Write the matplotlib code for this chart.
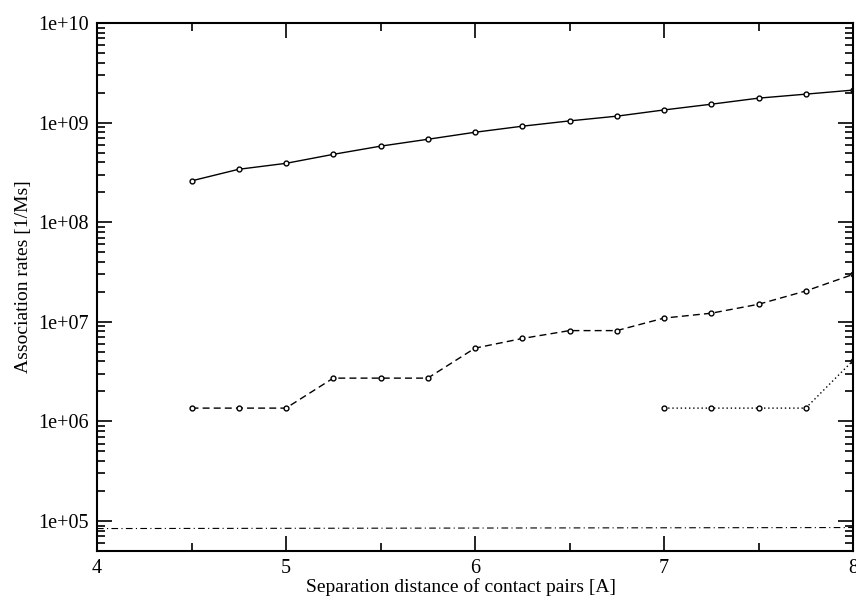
import numpy as np
import matplotlib
matplotlib.use('Agg')
import matplotlib.pyplot as plt
from matplotlib.ticker import LogLocator, MultipleLocator, NullFormatter

plt.rcParams['font.family'] = ['Liberation Serif', 'DejaVu Serif']

# separation distance [A]
dist = [4.5, 4.75, 5.0, 5.25, 5.5, 5.75, 6.0, 6.25, 6.5, 6.75, 7.0, 7.25, 7.5, 7.75, 8.0]
rate_solid = [2.6e8, 3.4e8, 3.9e8, 4.8e8, 5.8e8, 6.8e8, 8.0e8, 9.2e8, 1.04e9, 1.16e9,
              1.34e9, 1.53e9, 1.76e9, 1.93e9, 2.12e9]
rate_dashed = [1.36e6, 1.36e6, 1.36e6, 2.72e6, 2.72e6, 2.72e6, 5.44e6, 6.8e6, 8.16e6, 8.16e6,
               1.09e7, 1.22e7, 1.50e7, 2.04e7, 2.99e7]
dist_dotted = [7.0, 7.25, 7.5, 7.75, 8.0]
rate_dotted = [1.36e6, 1.36e6, 1.36e6, 1.36e6, 4.08e6]
dist_ref = [4.0, 5.0, 6.0, 7.0, 8.0]
rate_ref = [8.4e4, 8.45e4, 8.5e4, 8.55e4, 8.6e4]
xticks = [4, 5, 6, 7, 8]
yticks = [1e5, 1e6, 1e7, 1e8, 1e9, 1e10]
ytick_labels = ['1e+05', '1e+06', '1e+07', '1e+08', '1e+09', '1e+10']

fig = plt.figure(figsize=(8.56, 6.02), dpi=100)
ax = fig.add_axes([97/856, 1 - 551/602, (853 - 97)/856, (551 - 23)/602])

mk = dict(marker='o', markersize=3.5, markerfacecolor='white', markeredgecolor='black',
          markeredgewidth=1.0, color='black', linewidth=1.0)
ax.plot(dist, rate_solid, linestyle='-', **mk)
ax.plot(dist, rate_dashed, linestyle=(0, (5, 3)), **mk)
ax.plot(dist_dotted, rate_dotted, linestyle=(0, (1, 2)), **mk)
ax.plot(dist_ref, rate_ref, linestyle=(0, (6, 3, 1, 3)), color='black', linewidth=0.8)

ax.set_yscale('log')
ax.set_xlim(4, 8)
ax.set_ylim(5e4, 1e10)
ax.set_xticks(xticks)
ax.set_xticklabels([str(v) for v in xticks])
ax.xaxis.set_minor_locator(MultipleLocator(0.5))
ax.set_yticks(yticks)
ax.set_yticklabels(ytick_labels)
ax.yaxis.set_minor_locator(LogLocator(base=10, subs=np.arange(2, 10), numticks=20))
ax.yaxis.set_minor_formatter(NullFormatter())

ax.tick_params(which='both', direction='in', top=True, right=True, labelsize=14.5, width=1.2)
ax.tick_params(which='major', length=11, pad=6)
ax.tick_params(which='minor', length=5.5)
for s in ax.spines.values():
    s.set_linewidth(1.5)

ax.set_xlabel('Separation distance of contact pairs [A]', fontsize=14)
ax.set_ylabel('Association rates [1/Ms]', fontsize=14)
ax.xaxis.set_label_coords(0.482, -0.051)
ax.yaxis.set_label_coords(-0.086, 0.519)

fig.savefig('out.png', dpi=100)
